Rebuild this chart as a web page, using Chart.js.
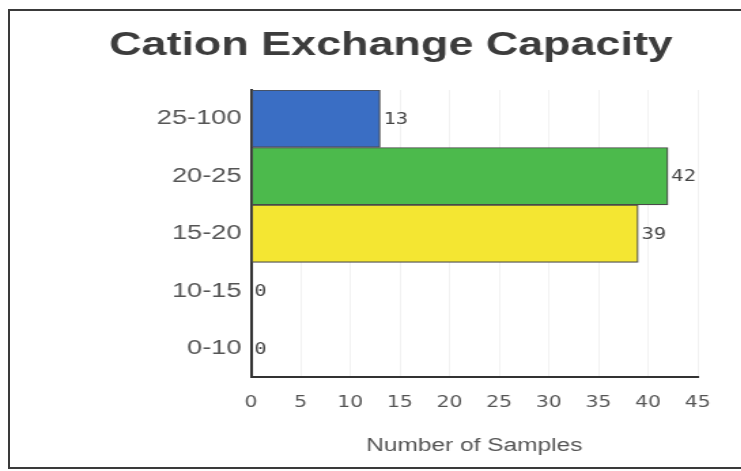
<!DOCTYPE html>
<html>
<head>
<meta charset="utf-8">
<title>Cation Exchange Capacity</title>
<script src="https://cdn.jsdelivr.net/npm/chart.js@4.4.1/dist/chart.umd.min.js"></script>
<style>
    body { margin: 0; background: #ffffff; overflow: hidden; }
    #marco {
        position: absolute; left: 8px; top: 9px;
        width: 760px; height: 456px;
        border: 2px solid #3a3a3a;
    }
    /* the scanned chart is wider than tall, so stretch the canvas sideways */
    #contenedor {
        position: absolute; left: 0; top: 0;
        width: 545px; height: 471px;
        transform: scaleX(1.36);
        transform-origin: 0 0;
    }
</style>
</head>
<body>
<div id="marco"></div>
<div id="contenedor"><canvas id="cecChart"></canvas></div>
<script>
var categorias = ['25-100', '20-25', '15-20', '10-15', '0-10'];
var muestras = [13, 42, 39, 0, 0];
var colores = ['#3a6ec4', '#4cba4c', '#f4e632', '#9a9a9a', '#9a9a9a'];
var ejeMax = 45;
var ejePaso = 5;

// Dibuja el valor al final de cada barra
var etiquetasValor = {
    id: 'etiquetasValor',
    afterDatasetsDraw: function(chart) {
        var ctx = chart.ctx;
        var meta = chart.getDatasetMeta(0);
        ctx.save();
        ctx.font = '15px "DejaVu Sans Mono", monospace';
        ctx.fillStyle = '#444444';
        ctx.textAlign = 'left';
        ctx.textBaseline = 'middle';
        meta.data.forEach(function(bar, i) {
            ctx.fillText(String(muestras[i]), bar.x + 2.5, bar.y + 1);
        });
        ctx.restore();
    }
};

var ctx1 = document.getElementById('cecChart').getContext('2d');
var cecChart = new Chart(ctx1, {
    type: 'bar',
    data: {
        labels: categorias,
        datasets: [{
            label: 'Number of Samples',
            data: muestras,
            backgroundColor: colores,
            borderColor: '#4a4a4a',
            borderWidth: 1.2,
            borderSkipped: false,
            barPercentage: 1,
            categoryPercentage: 1
        }]
    },
    options: {
        indexAxis: 'y',
        responsive: true,
        maintainAspectRatio: false,
        animation: false,
        layout: {
            padding: {
                left: 62,
                right: 32,
                top: 8,
                bottom: 14
            }
        },
        scales: {
            x: {
                min: 0,
                max: ejeMax,
                ticks: {
                    stepSize: ejePaso,
                    padding: 17,
                    color: '#555555',
                    font: { family: '"DejaVu Sans", sans-serif', size: 15 }
                },
                grid: {
                    color: '#f2f2f2',
                    drawTicks: false,
                    tickLength: 0
                },
                border: {
                    color: '#333333',
                    width: 2
                },
                title: {
                    display: true,
                    text: 'Number of Samples',
                    color: '#555555',
                    font: { family: '"Liberation Sans", Arial, sans-serif', size: 18 },
                    padding: { top: 6, bottom: 0 }
                }
            },
            y: {
                afterFit: function(scale) {
                    scale.width = 122.6;
                },
                ticks: {
                    padding: 7,
                    color: '#555555',
                    font: { family: '"Liberation Sans", Arial, sans-serif', size: 20 }
                },
                grid: {
                    display: false,
                    drawTicks: false
                },
                border: {
                    color: '#333333',
                    width: 2
                }
            }
        },
        plugins: {
            legend: { display: false },
            tooltip: { enabled: false },
            title: {
                display: true,
                text: 'Cation Exchange Capacity',
                color: '#3c3c3c',
                font: { family: '"Liberation Sans", Arial, sans-serif', size: 33, weight: 'bold' },
                padding: { top: 18, bottom: 24.4 }
            }
        }
    },
    plugins: [etiquetasValor]
});
</script>
</body>
</html>
